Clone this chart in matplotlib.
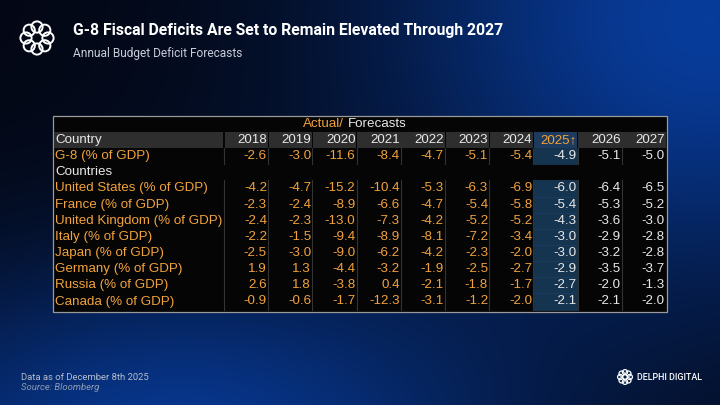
import numpy as np
import matplotlib
matplotlib.use("Agg")
import matplotlib.pyplot as plt
from matplotlib.patches import Rectangle, Circle

# table content
years = ["2018", "2019", "2020", "2021", "2022", "2023", "2024", "2025", "2026", "2027"]
first_forecast = 7  # index of 2025

row_labels = [
    "G-8 (% of GDP)",
    "Countries",
    "United States (% of GDP)",
    "France (% of GDP)",
    "United Kingdom (% of GDP)",
    "Italy (% of GDP)",
    "Japan (% of GDP)",
    "Germany (% of GDP)",
    "Russia (% of GDP)",
    "Canada (% of GDP)",
]

g8 = [-2.6, -3.0, -11.6, -8.4, -4.7, -5.1, -5.4, -4.9, -5.1, -5.0]
united_states = [-4.2, -4.7, -15.2, -10.4, -5.3, -6.3, -6.9, -6.0, -6.4, -6.5]
france = [-2.3, -2.4, -8.9, -6.6, -4.7, -5.4, -5.8, -5.4, -5.3, -5.2]
united_kingdom = [-2.4, -2.3, -13.0, -7.3, -4.2, -5.2, -5.2, -4.3, -3.6, -3.0]
italy = [-2.2, -1.5, -9.4, -8.9, -8.1, -7.2, -3.4, -3.0, -2.9, -2.8]
japan = [-2.5, -3.0, -9.0, -6.2, -4.2, -2.3, -2.0, -3.0, -3.2, -2.8]
germany = [1.9, 1.3, -4.4, -3.2, -1.9, -2.5, -2.7, -2.9, -3.5, -3.7]
russia = [2.6, 1.8, -3.8, 0.4, -2.1, -1.8, -1.7, -2.7, -2.0, -1.3]
canada = [-0.9, -0.6, -1.7, -12.3, -3.1, -1.2, -2.0, -2.1, -2.1, -2.0]

row_values = [g8, None, united_states, france, united_kingdom, italy,
              japan, germany, russia, canada]

ORANGE = "#f2a23c"
WHITE = "#e8e8e8"
HEAD_BG = "#2e2e2e"
BLUE_HEAD = "#1c3b5e"
BLUE_CELL = "#15344f"
TFONT = ["Liberation Sans", "DejaVu Sans"]

W, H = 720, 405
fig = plt.figure(figsize=(7.2, 4.05), dpi=100)
ax = fig.add_axes([0, 0, 1, 1])
ax.set_xlim(0, W)
ax.set_ylim(H, 0)
ax.axis("off")

# background gradient (dark navy with blue glows top-right and bottom-left)
yy, xx = np.mgrid[0:H, 0:W]
dark = np.array([3, 7, 20]) / 255
blue = np.array([8, 60, 155]) / 255
g1 = np.exp(-(((xx - 710) / 330) ** 2 + ((yy - 20) / 270) ** 2))
g2 = np.exp(-(((xx - 170) / 350) ** 2 + ((yy - 440) / 175) ** 2))
glow = np.clip(g1 + 0.9 * g2, 0, 1)
bg = dark + glow[..., None] * (blue - dark)
ax.imshow(bg, extent=(0, W, H, 0), aspect="auto", zorder=0)


def knot_logo(cx, cy, r_ring, r_loop, lw):
    for k in range(8):
        a = 2 * np.pi * k / 8
        ax.add_patch(Circle((cx + r_ring * np.cos(a), cy + r_ring * np.sin(a)),
                            r_loop, fill=False, ec="white", lw=lw, zorder=3))


# header
knot_logo(37, 38, 11, 5.6, 1.4)
ax.text(73, 31, "G-8 Fiscal Deficits Are Set to Remain Elevated Through 2027",
        fontsize=11.3, fontweight="bold", family="Roboto", color="white",
        va="center", ha="left")
ax.text(73, 54, "Annual Budget Deficit Forecasts", fontsize=8.6, family="Roboto",
        color="#c8cdd8", va="center", ha="left")

# table geometry
t_left, t_top, t_right, t_bottom = 53, 116, 667, 312
first_right = 267
col_w = 44.2
head_y = 140
row_h = 16.15
lab_x = 55
fs = 9.6

ax.add_patch(Rectangle((t_left, t_top), t_right - t_left, t_bottom - t_top,
                       fc="#050505", ec="#9a9a9a", lw=0.9, zorder=1))

# "Actual/ Forecasts"
ax.text(344, 124, "Actual/", color=ORANGE, fontsize=fs, family=TFONT,
        ha="right", va="center", zorder=4)
ax.text(348, 124, "Forecasts", color=WHITE, fontsize=fs, family=TFONT,
        ha="left", va="center", zorder=4)

# header row
ax.add_patch(Rectangle((t_left + 1, head_y - 8), 223 - t_left - 1, 16,
                       fc=HEAD_BG, ec="none", zorder=2))
ax.text(lab_x, head_y, "Country", color=WHITE, fontsize=fs, family=TFONT,
        ha="left", va="center", zorder=4)
for j, yr in enumerate(years):
    right = first_right + j * col_w
    fc = BLUE_HEAD if j == first_forecast else HEAD_BG
    ax.add_patch(Rectangle((right - 42.5, head_y - 8), 43.5, 16,
                           fc=fc, ec="none", zorder=2))
    label = yr + "\u2191" if j == first_forecast else yr
    color = ORANGE if j == first_forecast else WHITE
    ax.text(right, head_y, label, color=color, fontsize=fs, family=TFONT,
            ha="right", va="center", zorder=4)

# data rows
for i, (lab, vals) in enumerate(zip(row_labels, row_values)):
    y = head_y + (i + 1) * row_h
    ax.text(lab_x, y, lab, color=WHITE if vals is None else ORANGE,
            fontsize=fs, family=TFONT, ha="left", va="center", zorder=4)
    if vals is None:
        continue
    for j, v in enumerate(vals):
        right = first_right + j * col_w
        if j == first_forecast:
            ax.add_patch(Rectangle((right - 42.5, y - row_h / 2), 43.5, row_h,
                                   fc=BLUE_CELL, ec="#1f4468", lw=0.4, zorder=2))
        ax.plot([right - 43, right - 43], [y - row_h / 2, y + row_h / 2],
                color="#333333", lw=0.8, zorder=3)
        ax.text(right, y, f"{v:.1f}",
                color=ORANGE if j < first_forecast else WHITE,
                fontsize=fs, family=TFONT, ha="right", va="center", zorder=4)

# footer
ax.text(21, 377, "Data as of December 8th 2025", fontsize=6.8, family="Roboto",
        color="#b4bccb", va="center", ha="left")
ax.text(21, 388, "Source: Bloomberg", fontsize=6.8, family="Roboto",
        style="italic", color="#8f9bb0", va="center", ha="left")
knot_logo(625, 377, 4.8, 2.6, 0.9)
ax.text(637, 377.5, "DELPHI DIGITAL", fontsize=6.4, family="Roboto",
        fontweight="medium", color="white", va="center", ha="left")

fig.savefig("out.png", dpi=100)
